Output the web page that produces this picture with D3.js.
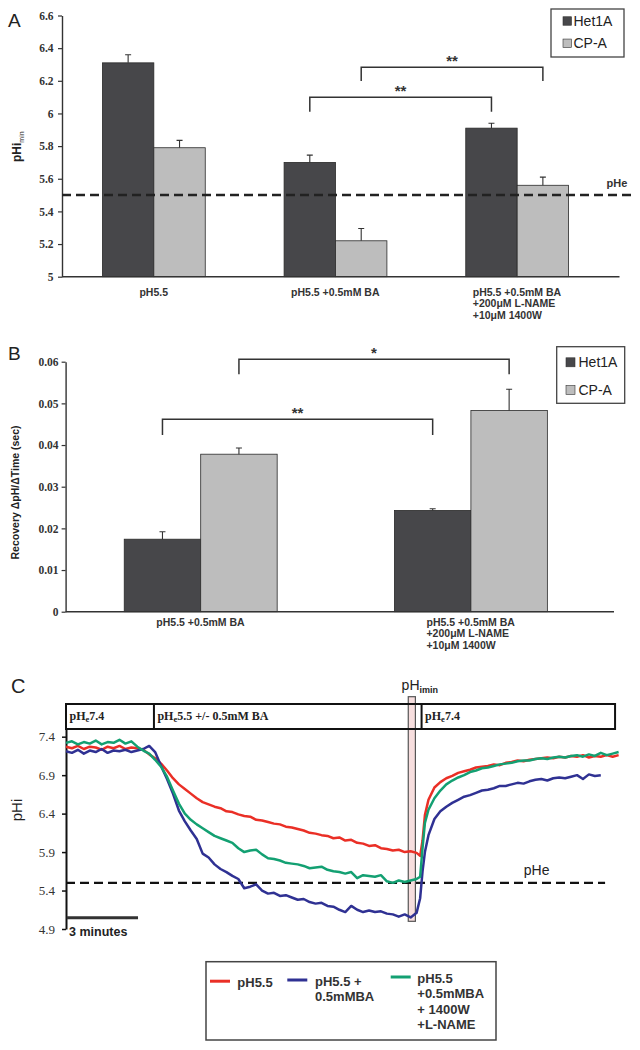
<!DOCTYPE html>
<html><head><meta charset="utf-8">
<script src="https://cdn.jsdelivr.net/npm/d3@7"></script>
<style>body{margin:0;background:#fff} svg{display:block}</style>
</head><body>
<svg id="fig" width="640" height="1050"></svg>
<script>
// ---------- Panel A data ----------
const seriesNames = ["Het1A", "CP-A"];
const catsA = [["pH5.5"], ["pH5.5 +0.5mM BA"], ["pH5.5 +0.5mM BA", "+200μM L-NAME", "+10μM 1400W"]];
const het1aA = [6.31, 5.70, 5.91];
const het1aErrA = [0.05, 0.045, 0.03];
const cpaA = [5.79, 5.22, 5.56];
const cpaErrA = [0.045, 0.075, 0.05];
const ticksA = [5, 5.2, 5.4, 5.6, 5.8, 6, 6.2, 6.4, 6.6];
const pHeA = 5.5;
const bracketsA = [
  {from: [1, 0], to: [2, 0], y: 6.10, leg: 6.01, label: "**"},
  {from: [1, 1], to: [2, 1], y: 6.283, leg: 6.199, label: "**"}
];

// ---------- Panel B data ----------
const catsB = [["pH5.5 +0.5mM BA"], ["pH5.5 +0.5mM BA", "+200μM L-NAME", "+10μM 1400W"]];
const het1aB = [0.0174, 0.0243];
const het1aErrB = [0.0018, 0.0004];
const cpaB = [0.0378, 0.0483];
const cpaErrB = [0.0015, 0.0051];
const ticksB = [0, 0.01, 0.02, 0.03, 0.04, 0.05, 0.06];
const bracketsB = [
  {from: [0, 0], to: [1, 0], y: 0.0462, leg: 0.0424, label: "**"},
  {from: [0, 1], to: [1, 1], y: 0.0606, leg: 0.0570, label: "*"}
];

// ---------- Panel C data (time in minutes, pHi) ----------
const timeC = [0,0.25,0.5,0.75,1,1.25,1.5,1.75,2,2.25,2.5,2.75,3,3.25,3.5,3.75,4,4.25,4.5,4.75,5,5.25,5.5,5.75,6,6.25,6.5,6.75,7,7.25,7.5,7.75,8,8.25,8.5,8.75,9,9.25,9.5,9.75,10,10.25,10.5,10.75,11,11.25,11.5,11.75,12,12.25,12.5,12.75,13,13.25,13.5,13.75,14,14.25,14.5,14.75,14.9,15,15.1,15.25,15.5,15.75,16,16.25,16.5,16.75,17,17.25,17.5,17.75,18,18.25,18.5,18.75,19,19.25,19.5,19.75,20,20.25,20.5,20.75,21,21.25,21.5,21.75,22,22.25,22.5,22.75,23,23.25];
const redC = [7.27,7.25,7.28,7.24,7.27,7.26,7.23,7.27,7.25,7.28,7.24,7.26,7.25,7.23,
  7.17,7.12,7.05,6.96,6.86,6.78,6.72,6.66,6.60,6.55,6.52,6.49,6.47,6.43,6.42,6.39,6.37,6.36,6.32,6.31,6.29,6.27,6.26,6.23,6.22,6.20,6.18,6.15,6.14,6.12,6.11,6.08,6.09,6.05,6.06,6.02,6.01,5.98,5.99,5.95,5.94,5.92,5.93,5.90,5.91,5.89,
  5.85,6.05,6.38,
  6.58,6.74,6.81,6.86,6.89,6.93,6.95,6.97,7.00,7.01,7.02,7.04,7.03,7.06,7.07,7.09,7.08,7.10,7.11,7.12,7.13,7.12,7.14,7.13,7.15,7.14,7.16,7.13,7.15,7.14,7.16,7.14,7.16];
const blueC = [7.21,7.19,7.23,7.18,7.22,7.20,7.24,7.19,7.22,7.21,7.23,7.20,7.22,7.24,
  7.28,7.20,7.02,6.85,6.66,6.44,6.30,6.18,6.07,5.88,5.83,5.74,5.68,5.64,5.59,5.55,5.43,5.45,5.48,5.40,5.36,5.37,5.33,5.34,5.31,5.28,5.29,5.25,5.23,5.24,5.20,5.19,5.15,5.12,5.20,5.15,5.12,5.14,5.12,5.13,5.10,5.09,5.06,5.09,5.05,5.11,
  5.30,5.65,5.90,
  6.12,6.33,6.43,6.49,6.54,6.58,6.62,6.64,6.67,6.70,6.71,6.73,6.76,6.76,6.78,6.80,6.79,6.82,6.84,6.85,6.83,6.86,6.87,6.86,6.88,6.90,6.85,6.91,6.89,6.90,null,null,null];
const greenC = [7.32,7.34,7.30,7.33,7.31,7.35,7.30,7.33,7.32,7.36,7.31,7.34,7.27,7.22,
  7.18,7.10,7.01,6.88,6.70,6.53,6.40,6.32,6.26,6.21,6.16,6.11,6.08,6.05,6.02,5.95,5.90,5.92,5.93,5.87,5.82,5.81,5.79,5.76,5.75,5.74,5.72,5.69,5.70,5.71,5.67,5.65,5.64,5.62,5.64,5.56,5.60,5.59,5.58,5.60,5.52,5.50,5.53,5.51,5.53,5.55,
  5.58,5.95,6.28,
  6.45,6.60,6.70,6.78,6.83,6.87,6.90,6.94,6.96,6.99,7.00,7.02,7.04,7.05,7.06,7.08,7.09,7.09,7.11,7.12,7.11,7.13,7.14,7.13,7.15,7.16,7.14,7.17,7.15,7.19,7.16,7.18,7.20];
const ticksC = [4.9, 5.4, 5.9, 6.4, 6.9, 7.4];
const phaseBounds = [0, 3.7, 14.96, 23.1];
const phaseLabels = [["pH", "e", "7.4"], ["pH", "e", "5.5 +/- 0.5mM BA"], ["pH", "e", "7.4"]];
const pHiminWindow = [14.4, 14.7];
const pHeC = 5.5;
const scaleBarMinutes = 3;
const legendC = [
  {lines: ["pH5.5"], color: "#ea2f26"},
  {lines: ["pH5.5 +", "0.5mMBA"], color: "#2f3193"},
  {lines: ["pH5.5", "+0.5mMBA", "+ 1400W", "+L-NAME"], color: "#13a072"}
];

// ---------- drawing ----------
const svg = d3.select("#fig");
const SANS = "'Liberation Sans', Arial, sans-serif";
const SERIF = "'Liberation Serif', 'Times New Roman', serif";
const DARK = "#47474a", LIGHT = "#bdbdbd";

function barPanel(o) {
  const g = svg.append("g");
  const y = d3.scaleLinear().domain(o.yDomain).range(o.yRange);
  const x = d3.scaleBand().domain(d3.range(o.cats.length)).range(o.xRange);
  const bw = x.step() * 0.283;
  const cx = i => x(i) + x.bandwidth() / 2;
  const barMid = (cat, s) => cx(cat) + (s === 0 ? -bw / 2 : bw / 2);
  const series = [{v: o.v1, e: o.e1, fill: DARK, s: 0}, {v: o.v2, e: o.e2, fill: LIGHT, s: 1}];

  const ax = g.append("g").attr("transform", `translate(${o.axisX},0)`)
    .call(d3.axisLeft(y).tickValues(o.ticks).tickSize(4).tickSizeOuter(0).tickPadding(o.tickPad).tickFormat(d => String(d)));
  ax.select(".domain").attr("stroke", "#333").attr("stroke-width", 1.4);
  ax.selectAll(".tick line").attr("stroke", "#333").attr("stroke-width", 1.2);
  ax.selectAll(".tick text").attr("font-family", SERIF).attr("font-size", 11.5).attr("font-weight", "bold").attr("fill", "#333");

  series.forEach(sr => {
    g.append("g").selectAll("rect").data(sr.v).join("rect")
      .attr("x", (d, i) => barMid(i, sr.s) - bw / 2).attr("y", d => y(d))
      .attr("width", bw).attr("height", d => y(o.yDomain[0]) - y(d))
      .attr("fill", sr.fill).attr("stroke", "#2a2a2a").attr("stroke-width", 0.8);
    g.append("g").selectAll("path").data(sr.v).join("path")
      .attr("d", (d, i) => { const xm = barMid(i, sr.s); const yt = y(d + sr.e[i]);
        return `M${xm},${y(d)}V${yt}M${xm - 3},${yt}H${xm + 3}`; })
      .attr("stroke", "#333").attr("stroke-width", 1.1).attr("fill", "none");
  });

  g.append("line").attr("x1", o.axisX).attr("x2", o.axisEnd)
    .attr("y1", y(o.yDomain[0])).attr("y2", y(o.yDomain[0])).attr("stroke", "#333").attr("stroke-width", 1.4);

  o.brackets.forEach(b => {
    const x1 = barMid(b.from[0], b.from[1]), x2 = barMid(b.to[0], b.to[1]);
    g.append("path").attr("d", `M${x1},${y(b.leg)}V${y(b.y)}H${x2}V${y(b.leg)}`)
      .attr("fill", "none").attr("stroke", "#333").attr("stroke-width", 1.5);
    g.append("text").attr("x", (x1 + x2) / 2).attr("y", y(b.y) - 10 + 8.6).attr("text-anchor", "middle")
      .attr("font-family", SANS).attr("font-weight", "bold").attr("font-size", 15).attr("fill", "#333").text(b.label);
  });

  o.cats.forEach((lines, i) => {
    const t = g.append("text").attr("font-family", SANS).attr("font-size", 10.5).attr("font-weight", "bold").attr("fill", "#333");
    lines.forEach((ln, k) => t.append("tspan").attr("x", 0).attr("y", o.labelY + k * o.lineH).text(ln));
    const w = t.node().getBBox().width;
    t.attr("transform", `translate(${cx(i) - w / 2},0)`);
  });

  const L = o.legend;
  g.append("rect").attr("x", L.x).attr("y", L.y).attr("width", L.w).attr("height", L.h)
    .attr("fill", "#fff").attr("stroke", "#444").attr("stroke-width", 1.3);
  seriesNames.forEach((nm, k) => {
    const cy = L.items[k];
    g.append("rect").attr("x", L.sx).attr("y", cy - L.ss / 2).attr("width", L.ss).attr("height", L.ss)
      .attr("fill", k === 0 ? DARK : LIGHT).attr("stroke", "#333").attr("stroke-width", 0.6);
    g.append("text").attr("x", L.tx).attr("y", cy + 5).attr("font-family", SANS).attr("font-size", 14)
      .attr("fill", "#222").text(nm);
  });
  return {g, y, x};
}

// Panel A
const A = barPanel({
  cats: catsA, v1: het1aA, e1: het1aErrA, v2: cpaA, e2: cpaErrA,
  yDomain: [5, 6.6], yRange: [276.7, 15.5], xRange: [63, 608], axisX: 62, axisEnd: 619.5,
  ticks: ticksA, tickPad: 4.5, brackets: bracketsA, labelY: 295.5, lineH: 11.7,
  legend: {x: 551, y: 9, w: 73, h: 48, sx: 563, ss: 8.5, tx: 573.5, items: [21, 43.3]}
});
A.g.append("line").attr("x1", 62).attr("x2", 636).attr("y1", A.y(pHeA)).attr("y2", A.y(pHeA))
  .attr("stroke", "#222").attr("stroke-width", 2.5).attr("stroke-dasharray", "9,5");
A.g.append("text").attr("x", 617).attr("y", 187).attr("text-anchor", "middle").attr("font-family", SANS)
  .attr("font-weight", "bold").attr("font-size", 11).attr("fill", "#333").text("pHe");
const tA = A.g.append("text").attr("transform", "translate(21,146.7) rotate(-90)").attr("text-anchor", "middle")
  .attr("font-family", SANS).attr("font-weight", "bold").attr("font-size", 12).attr("fill", "#222");
tA.append("tspan").text("pHi");
tA.append("tspan").attr("font-size", 7).attr("dy", 3).attr("font-weight", "normal").text("min");
svg.append("text").attr("x", 8).attr("y", 27).attr("font-family", SANS).attr("font-size", 19).attr("fill", "#222").text("A");

// Panel B
const B = barPanel({
  cats: catsB, v1: het1aB, e1: het1aErrB, v2: cpaB, e2: cpaErrB,
  yDomain: [0, 0.06], yRange: [611.7, 361.7], xRange: [65.6, 606], axisX: 65.6, axisEnd: 614,
  ticks: ticksB, tickPad: 3, brackets: bracketsB, labelY: 625.5, lineH: 11.5,
  legend: {x: 556.7, y: 346.7, w: 68, h: 56.6, sx: 566, ss: 9, tx: 578.5, items: [362.3, 390]}
});
B.g.append("text").attr("transform", "translate(18.5,492.5) rotate(-90)").attr("text-anchor", "middle")
  .attr("font-family", SANS).attr("font-weight", "bold").attr("font-size", 10.5).attr("fill", "#222")
  .text("Recovery ΔpH/ΔTime (sec)");
svg.append("text").attr("x", 8).attr("y", 360).attr("font-family", SANS).attr("font-size", 19).attr("fill", "#222").text("B");

// Panel C
const gC = svg.append("g");
const xC = d3.scaleLinear().domain([0, 23.35]).range([66, 621]);
const yC = d3.scaleLinear().domain([4.9, 7.5]).range([929, 729]);

gC.append("rect").attr("x", xC(pHiminWindow[0])).attr("width", xC(pHiminWindow[1]) - xC(pHiminWindow[0]))
  .attr("y", yC(7.92)).attr("height", yC(5.0) - yC(7.92))
  .attr("fill", "#f7dede").attr("stroke", "#555").attr("stroke-width", 1.2);

gC.append("rect").attr("x", xC(phaseBounds[0])).attr("y", 704).attr("width", xC(phaseBounds[3]) - xC(phaseBounds[0])).attr("height", 25)
  .attr("fill", "none").attr("stroke", "#111").attr("stroke-width", 2);
phaseBounds.slice(1, 3).forEach(b => gC.append("line").attr("x1", xC(b)).attr("x2", xC(b)).attr("y1", 704).attr("y2", 729)
  .attr("stroke", "#111").attr("stroke-width", 2));
phaseLabels.forEach((pl, i) => {
  const t = gC.append("text").attr("x", xC(phaseBounds[i]) + 3.5).attr("y", 719.5).attr("font-family", SERIF)
    .attr("font-weight", "bold").attr("font-size", 12).attr("fill", "#222");
  t.append("tspan").text(pl[0]);
  t.append("tspan").attr("font-size", 8.5).attr("dy", 2.5).text(pl[1]);
  t.append("tspan").attr("dy", -2.5).text(pl[2]);
});
const tmin = gC.append("text").attr("x", (xC(pHiminWindow[0]) + xC(pHiminWindow[1])) / 2 + 8).attr("y", 690).attr("text-anchor", "middle")
  .attr("font-family", SANS).attr("font-size", 14).attr("fill", "#222");
tmin.append("tspan").text("pH");
tmin.append("tspan").attr("font-size", 9).attr("dy", 3).attr("font-weight", "bold").text("imin");

const axC = gC.append("g").attr("transform", `translate(${xC(0)},0)`)
  .call(d3.axisLeft(yC).tickValues(ticksC).tickSize(4).tickSizeOuter(0).tickPadding(7).tickFormat(d3.format(".1f")));
axC.select(".domain").attr("stroke", "#111").attr("stroke-width", 2);
axC.selectAll(".tick line").attr("stroke", "#111").attr("stroke-width", 1.5);
axC.selectAll(".tick text").attr("font-family", SERIF).attr("font-size", 13).attr("fill", "#333");

gC.append("line").attr("x1", xC(0)).attr("x2", xC(22.68)).attr("y1", yC(pHeC)).attr("y2", yC(pHeC))
  .attr("stroke", "#111").attr("stroke-width", 2.2).attr("stroke-dasharray", "9,5");
gC.append("text").attr("x", xC(19.8)).attr("y", 875).attr("text-anchor", "middle").attr("font-family", SANS)
  .attr("font-size", 14).attr("fill", "#222").text("pHe");

const line = d3.line().defined(d => d[1] != null).x(d => xC(d[0])).y(d => yC(d[1]));
[[redC, legendC[0].color], [blueC, legendC[1].color], [greenC, legendC[2].color]].forEach(([vals, col]) => {
  gC.append("path").datum(timeC.map((t, i) => [t, vals[i]])).attr("d", line)
    .attr("fill", "none").attr("stroke", col).attr("stroke-width", 2.5).attr("stroke-linejoin", "round");
});

gC.append("line").attr("x1", xC(0.03)).attr("x2", xC(0.03 + scaleBarMinutes)).attr("y1", yC(5.046)).attr("y2", yC(5.046))
  .attr("stroke", "#333").attr("stroke-width", 3);
gC.append("text").attr("x", 69).attr("y", 936).attr("font-family", SANS).attr("font-weight", "bold").attr("font-size", 12.5)
  .attr("fill", "#222").text(scaleBarMinutes + " minutes");

gC.append("text").attr("transform", "translate(22,810) rotate(-90)").attr("text-anchor", "middle")
  .attr("font-family", SANS).attr("font-size", 15).attr("fill", "#222").text("pHi");
svg.append("text").attr("x", 11).attr("y", 693).attr("font-family", SANS).attr("font-size", 20).attr("fill", "#222").text("C");

gC.append("rect").attr("x", 206).attr("y", 961.7).attr("width", 290).attr("height", 78.3)
  .attr("fill", "#fff").attr("stroke", "#444").attr("stroke-width", 1.5);
const legPos = [{sx: 210, tx: 237.3, y: 981.7}, {sx: 287.3, tx: 315, y: 980.5}, {sx: 390.7, tx: 417.3, y: 977.5}];
legendC.forEach((it, k) => {
  const p = legPos[k];
  gC.append("line").attr("x1", p.sx).attr("x2", p.sx + 20).attr("y1", p.y - 0.5).attr("y2", p.y - 0.5)
    .attr("stroke", it.color).attr("stroke-width", 3);
  const t = gC.append("text").attr("font-family", SANS).attr("font-weight", "bold").attr("font-size", 13).attr("fill", "#333");
  it.lines.forEach((ln, j) => t.append("tspan").attr("x", p.tx).attr("y", p.y + 5 + j * 15.6).text(ln));
});
</script>
</body></html>
